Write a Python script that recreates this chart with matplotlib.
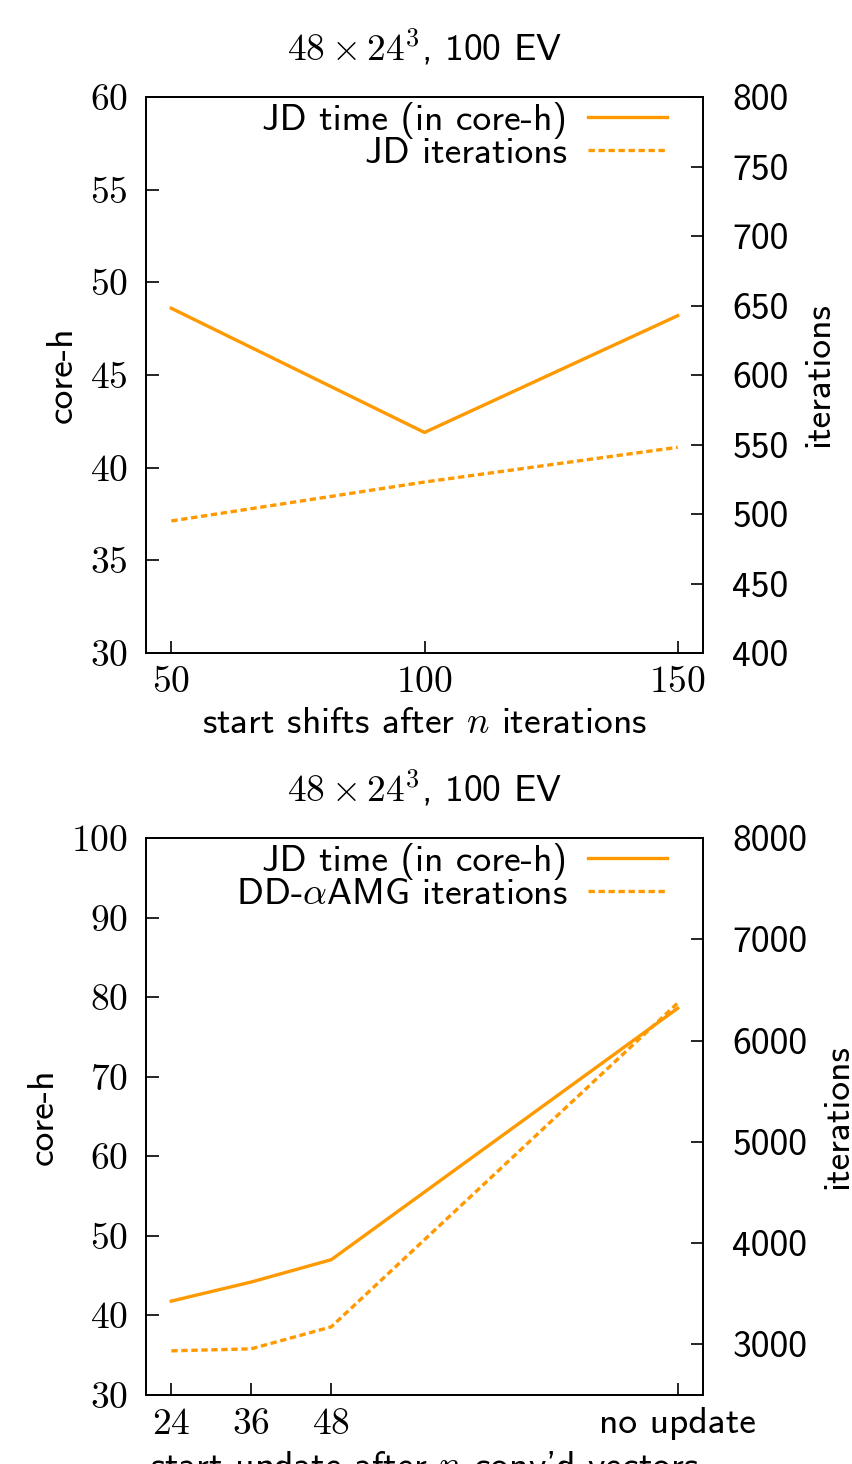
import matplotlib
matplotlib.use("Agg")
import matplotlib.pyplot as plt

plt.rcParams['mathtext.fontset'] = 'cm'
plt.rcParams['font.family'] = ['cmss10', 'DejaVu Sans']
plt.rcParams['axes.unicode_minus'] = False

# ---- data: top panel ----
shift_start = [50, 100, 150]
top_time = [48.6, 41.9, 48.2]
top_iters = [495, 523, 548]

# ---- data: bottom panel ----
update_pos = [24, 36, 48, 100]
update_labels = ["$24$", "$36$", "$48$", "no update"]
bot_time = [41.8, 44.2, 47.0, 78.6]
bot_iters = [2936, 2956, 3173, 6370]

title = r"$48\times 24^3$, 100 EV"
orange = "#FF9900"
FS = 27

fig = plt.figure(figsize=(8.52, 14.64), dpi=100)

def setup(ax, ax2):
    for a in (ax, ax2):
        for s in a.spines.values():
            s.set_linewidth(1.3)
    ax.tick_params(axis='x', direction='in', length=9, width=1.2, labelsize=FS, pad=9, top=False)
    ax.tick_params(axis='y', direction='in', length=9, width=1.2, labelsize=FS, pad=13, right=False)
    ax2.tick_params(axis='y', direction='in', length=9, width=1.2, labelsize=FS, pad=21)

def legend(ax, handles, labels):
    ax.legend(handles, labels, loc='upper right',
              frameon=False, markerfirst=False, fontsize=FS, handlelength=2.1,
              labelspacing=-0.05, borderaxespad=0.0, handletextpad=0.55,
              bbox_to_anchor=(0.962, 1.018))

# top
ax = fig.add_axes([146/852, 1-653/1464, 557/852, 556/1464])
ax2 = ax.twinx()
l1, = ax.plot(shift_start, top_time, color=orange, lw=2.4)
l2, = ax2.plot(shift_start, top_iters, color=orange, lw=2.4, ls=(0, (1.9, 1.1)))
ax.set_xlim(45, 155)
ax.set_ylim(30, 60)
ax2.set_ylim(400, 800)
ax.set_xticks(shift_start)
ax.set_xticklabels([f"${v}$" for v in shift_start])
yt = [30, 35, 40, 45, 50, 55, 60]
ax.set_yticks(yt)
ax.set_yticklabels([f"${v}$" for v in yt])
ax2.set_yticks(range(400, 801, 50))
ax2.set_yticklabels([str(v) for v in range(400, 801, 50)])
setup(ax, ax2)
ax.set_title(title, fontsize=FS, pad=26)
ax.set_xlabel("start shifts after $n$ iterations", fontsize=FS, labelpad=6)
ax.set_ylabel("core-h", fontsize=FS, labelpad=8)
ax2.set_ylabel("iterations", fontsize=FS, labelpad=10)
legend(ax, [l1, l2], ["JD time (in core-h)", "JD iterations"])

# bottom
bx = fig.add_axes([146/852, 1-1395/1464, 557/852, 557/1464])
bx2 = bx.twinx()
m1, = bx.plot(update_pos, bot_time, color=orange, lw=2.4)
m2, = bx2.plot(update_pos, bot_iters, color=orange, lw=2.4, ls=(0, (1.9, 1.1)))
bx.set_xlim(20.2, 103.8)
bx.set_ylim(30, 100)
bx2.set_ylim(2500, 8000)
bx.set_xticks(update_pos)
bx.set_xticklabels(update_labels)
yt2 = list(range(30, 101, 10))
bx.set_yticks(yt2)
bx.set_yticklabels([f"${v}$" for v in yt2])
bx2.set_yticks(range(3000, 8001, 1000))
bx2.set_yticklabels([str(v) for v in range(3000, 8001, 1000)])
setup(bx, bx2)
bx.set_title(title, fontsize=FS, pad=26)
bx.set_xlabel("start update after $n$ conv'd vectors", fontsize=FS, labelpad=6)
bx.set_ylabel("core-h", fontsize=FS, labelpad=8)
bx2.set_ylabel("iterations", fontsize=FS, labelpad=10)
legend(bx, [m1, m2], ["JD time (in core-h)", r"DD-$\alpha$AMG iterations"])

fig.savefig("out.png", dpi=100)
